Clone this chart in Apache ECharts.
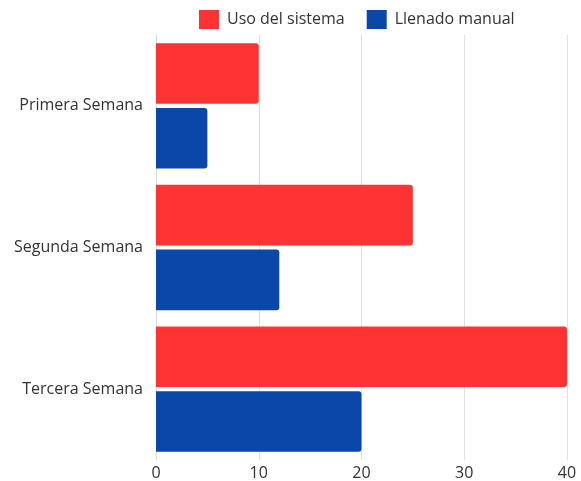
<!DOCTYPE html>
<html><head><meta charset="utf-8">
<script src="https://cdn.jsdelivr.net/npm/echarts@6/dist/echarts.min.js"></script>
<style>html,body{margin:0;padding:0;background:#fff}#c{width:581px;height:481px}</style>
</head><body><div id="c"></div>
<script>
const categories = ['Primera Semana', 'Segunda Semana', 'Tercera Semana'];
const usoSistema = [10, 25, 40];
const llenadoManual = [5, 12, 20];
const xTicks = [0, 10, 20, 30, 40];

const chart = echarts.init(document.getElementById('c'), null, {renderer: 'canvas'});
chart.setOption({
  animation: false,
  textStyle: {fontFamily: 'Open Sans'},
  legend: {
    left: 194, top: 5, itemWidth: 20, itemHeight: 19, itemGap: 22,
    icon: 'rect',
    textStyle: {fontSize: 16, color: '#333', fontFamily: 'Open Sans', padding: [0, 0, 0, 3]},
    data: ['Uso del sistema', 'Llenado manual']
  },
  grid: {left: 156, right: 14, top: 35, bottom: 19, containLabel: false},
  xAxis: {
    type: 'value', min: xTicks[0], max: xTicks[xTicks.length - 1], interval: 10,
    axisLine: {show: false}, axisTick: {show: false},
    splitLine: {lineStyle: {color: '#e0e0e0'}},
    axisLabel: {fontSize: 16, color: '#333', margin: 5}
  },
  yAxis: {
    type: 'category', data: categories, inverse: true,
    axisLine: {show: true, lineStyle: {color: '#dcdcdc'}}, axisTick: {show: false},
    axisLabel: {fontSize: 16, color: '#333', margin: 13}
  },
  series: [
    {name: 'Uso del sistema', type: 'bar', data: usoSistema, barCategoryGap: '11.5%', barGap: '7%',
     itemStyle: {color: '#ff3333', borderRadius: [0, 3, 3, 0]}},
    {name: 'Llenado manual', type: 'bar', data: llenadoManual, barCategoryGap: '11.5%', barGap: '7%',
     itemStyle: {color: '#0a47a9', borderRadius: [0, 3, 3, 0]}}
  ]
});
</script></body></html>
